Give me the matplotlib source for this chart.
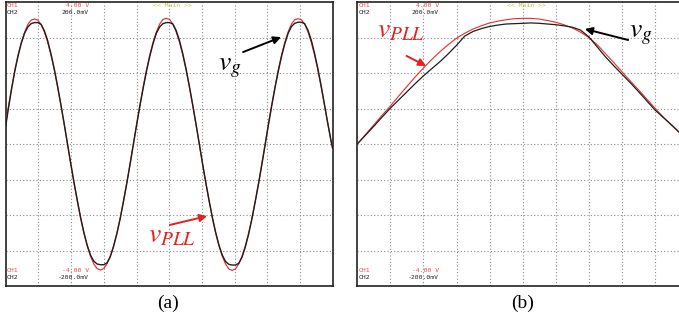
import matplotlib
matplotlib.use("Agg")
import matplotlib.pyplot as plt

plt.rcParams['mathtext.fontset'] = 'stix'

# ---------------- data (divisions) ----------------
# panel (a): several cycles
x_a = [0.000,
       0.074, 0.175, 0.276, 0.376, 0.477, 0.578, 0.679, 0.779, 0.880, 0.981,
       1.082, 1.182, 1.283, 1.384, 1.485, 1.585, 1.686, 1.787, 1.888, 1.988,
       2.089, 2.190, 2.291, 2.391, 2.492, 2.593, 2.694, 2.794, 2.895, 2.996,
       3.097, 3.197, 3.298, 3.399, 3.500, 3.600, 3.701, 3.802, 3.903, 4.003,
       4.104, 4.205, 4.306, 4.406, 4.507, 4.608, 4.709, 4.809, 4.910, 5.011,
       5.112, 5.212, 5.313, 5.414, 5.515, 5.615, 5.716, 5.817, 5.918, 6.018,
       6.119, 6.220, 6.321, 6.421, 6.522, 6.623, 6.724, 6.824, 6.925, 7.026,
       7.127, 7.227, 7.328, 7.429, 7.530, 7.630, 7.731, 7.832, 7.933, 8.033,
       8.134, 8.235, 8.336, 8.436, 8.537, 8.638, 8.739, 8.839, 8.940, 9.041,
       9.142, 9.242, 9.343, 9.444, 9.545, 9.645, 9.746, 9.847, 9.948,
       10.000]
vpll_a = [0.55,
          1.00, 1.55, 2.07, 2.50, 2.86, 3.15, 3.37, 3.49, 3.52, 3.49,
          3.37, 3.16, 2.87, 2.51, 2.09, 1.61, 1.10, 0.56, 0.00, -0.56,
          -1.10, -1.61, -2.09, -2.51, -2.87, -3.16, -3.38, -3.51, -3.55, -3.51,
          -3.38, -3.16, -2.87, -2.51, -2.09, -1.61, -1.10, -0.56, 0.00, 0.56,
          1.10, 1.61, 2.09, 2.51, 2.87, 3.16, 3.38, 3.51, 3.54, 3.51,
          3.38, 3.16, 2.87, 2.51, 2.09, 1.61, 1.10, 0.56, 0.00, -0.56,
          -1.10, -1.61, -2.09, -2.51, -2.87, -3.16, -3.38, -3.52, -3.56, -3.52,
          -3.38, -3.16, -2.87, -2.51, -2.09, -1.61, -1.10, -0.56, 0.00, 0.56,
          1.10, 1.61, 2.09, 2.51, 2.87, 3.16, 3.38, 3.50, 3.53, 3.50,
          3.38, 3.16, 2.87, 2.51, 2.09, 1.61, 1.10, 0.58, 0.08,
          -0.15]
vg_a = [0.50,
        0.95, 1.52, 2.04, 2.47, 2.84, 3.12, 3.30, 3.39, 3.42, 3.42,
        3.37, 3.19, 2.91, 2.54, 2.12, 1.64, 1.12, 0.58, 0.02, -0.54,
        -1.08, -1.59, -2.07, -2.49, -2.85, -3.13, -3.30, -3.38, -3.40, -3.40,
        -3.35, -3.18, -2.89, -2.53, -2.11, -1.63, -1.12, -0.58, -0.02, 0.53,
        1.07, 1.58, 2.05, 2.47, 2.83, 3.12, 3.30, 3.39, 3.42, 3.42,
        3.38, 3.20, 2.92, 2.55, 2.12, 1.64, 1.12, 0.58, 0.02, -0.54,
        -1.08, -1.59, -2.07, -2.49, -2.85, -3.13, -3.31, -3.39, -3.41, -3.41,
        -3.36, -3.19, -2.90, -2.54, -2.11, -1.63, -1.13, -0.59, -0.03, 0.53,
        1.07, 1.58, 2.05, 2.47, 2.83, 3.12, 3.31, 3.40, 3.43, 3.43,
        3.39, 3.21, 2.93, 2.56, 2.13, 1.65, 1.13, 0.60, 0.10,
        -0.12]

# panel (b): zoomed view around one positive peak
x_b = [0.00, 0.25, 0.50, 0.75, 1.00, 1.25, 1.50, 1.75, 2.00, 2.25,
       2.50, 2.75, 3.00, 3.25, 3.50, 3.75, 4.00, 4.25, 4.50, 4.75,
       5.00, 5.25, 5.50, 5.75, 6.00, 6.25, 6.50, 6.75, 7.00, 7.25,
       7.50, 7.75, 8.00, 8.25, 8.50, 8.75, 9.00, 9.25, 9.50, 9.75, 10.00]
vpll_b = [0.00, 0.27, 0.54, 0.81, 1.07, 1.35, 1.62, 1.89, 2.14, 2.38,
          2.60, 2.80, 2.98, 3.12, 3.24, 3.33, 3.41, 3.46, 3.50, 3.53,
          3.54, 3.54, 3.52, 3.48, 3.43, 3.36, 3.27, 3.15, 3.00, 2.80,
          2.55, 2.30, 2.04, 1.78, 1.53, 1.27, 1.01, 0.76, 0.53, 0.31, 0.08]
vg_b = [0.00, 0.25, 0.50, 0.76, 1.01, 1.24, 1.47, 1.70, 1.92, 2.12,
        2.32, 2.54, 2.78, 3.04, 3.17, 3.25, 3.31, 3.35, 3.38, 3.39,
        3.40, 3.41, 3.40, 3.38, 3.36, 3.33, 3.29, 3.21, 3.02, 2.74,
        2.46, 2.21, 1.97, 1.73, 1.48, 1.22, 0.96, 0.75, 0.54, 0.32, 0.10]

panel_labels = ["(a)", "(b)"]
scope_top = [("CH1", "4.00 V"), ("CH2", "200.0mV")]
scope_bot = [("CH1", "-4.00 V"), ("CH2", "-200.0mV")]
scope_title = "<< Main >>"

# ---------------- figure ----------------
W, H = 679, 321
fig = plt.figure(figsize=(W / 100, H / 100), dpi=100)
fig.patch.set_facecolor('white')

RED = '#ee2b2b'
LBL_RED = '#e3211d'
TXT_RED = '#f04848'
YEL = '#c9c23a'

ax_a = fig.add_axes([5.7 / W, 1 - 286 / H, 327 / W, 284 / H])
ax_b = fig.add_axes([357.3 / W, 1 - 286 / H, 330.7 / W, 284 / H])


def style(ax, redx, right_frac):
    ax.set_xlim(0, 10)
    ax.set_ylim(-4, 4)
    ax.set_xticks([])
    ax.set_yticks([])
    for s in ax.spines.values():
        s.set_linewidth(1.2)
        s.set_color('#222222')
    for gx in range(1, 10):
        ax.axvline(gx, color='#8a8a8a', lw=0.8, ls=(0, (1, 2)), zorder=1)
    for gy in range(-3, 4):
        ax.axhline(gy, color='#8a8a8a', lw=0.8, ls=(0, (1, 2)), zorder=1)
    fs = 4.6
    fam = 'DejaVu Sans Mono'
    ys_top = [0.996, 0.972]
    ys_bot = [0.063, 0.040]
    cols = [TXT_RED, '#222222']
    for (ch, val), yy, c in zip(scope_top, ys_top, cols):
        ax.text(redx, yy, ch, transform=ax.transAxes, fontsize=fs, family=fam,
                color=c, va='top', ha='left')
        ax.text(right_frac, yy, val, transform=ax.transAxes, fontsize=fs,
                family=fam, color=c, va='top', ha='right')
    for (ch, val), yy, c in zip(scope_bot, ys_bot, cols):
        ax.text(redx, yy, ch, transform=ax.transAxes, fontsize=fs, family=fam,
                color=c, va='top', ha='left')
        ax.text(right_frac, yy, val, transform=ax.transAxes, fontsize=fs,
                family=fam, color=c, va='top', ha='right')
    ax.text(0.51, 0.996, scope_title, transform=ax.transAxes, fontsize=fs,
            family=fam, color=YEL, va='top', ha='center')


style(ax_a, 0.003, 0.255)
style(ax_b, 0.005, 0.247)

ax_a.plot(x_a, vpll_a, color=RED, lw=0.85, zorder=3)
ax_a.plot(x_a, vg_a, color='#1e1e1e', lw=1.0, zorder=4)
ax_b.plot(x_b, vpll_b, color=RED, lw=0.8, zorder=3)
ax_b.plot(x_b, vg_b, color='#1e1e1e', lw=0.9, zorder=4)

# annotations
LFS = 20
ax_a.text(6.49, 2.08, r'$v_g$', fontsize=LFS, color='black', ha='left',
          va='baseline', zorder=6)
ax_a.annotate('', xy=(8.42, 3.01), xytext=(7.26, 2.59),
              arrowprops=dict(arrowstyle='-|>', color='black', lw=1.4,
                              mutation_scale=11, shrinkA=0, shrinkB=0), zorder=6)
ax_a.text(4.35, -2.76, r'$v_{PLL}$', fontsize=LFS, color=LBL_RED, ha='left',
          va='baseline', zorder=6)
ax_a.annotate('', xy=(6.16, -2.03), xytext=(5.02, -2.28),
              arrowprops=dict(arrowstyle='-|>', color=LBL_RED, lw=1.4,
                              mutation_scale=11, shrinkA=0, shrinkB=0), zorder=6)

ax_b.text(0.60, 3.01, r'$v_{PLL}$', fontsize=LFS, color=LBL_RED, ha='left',
          va='baseline', zorder=6)
ax_b.annotate('', xy=(2.08, 2.20), xytext=(1.49, 2.48),
              arrowprops=dict(arrowstyle='-|>', color=LBL_RED, lw=1.4,
                              mutation_scale=11, shrinkA=0, shrinkB=0), zorder=6)
ax_b.text(8.21, 3.01, r'$v_g$', fontsize=LFS, color='black', ha='left',
          va='baseline', zorder=6)
ax_b.annotate('', xy=(6.88, 3.24), xytext=(8.19, 2.93),
              arrowprops=dict(arrowstyle='-|>', color='black', lw=1.4,
                              mutation_scale=11, shrinkA=0, shrinkB=0), zorder=6)

fig.text(168 / W, 1 - 303 / H, panel_labels[0], fontsize=14,
         family='Liberation Serif', ha='center', va='center')
fig.text(523 / W, 1 - 303 / H, panel_labels[1], fontsize=14,
         family='Liberation Serif', ha='center', va='center')

fig.savefig('out.png', dpi=100)
